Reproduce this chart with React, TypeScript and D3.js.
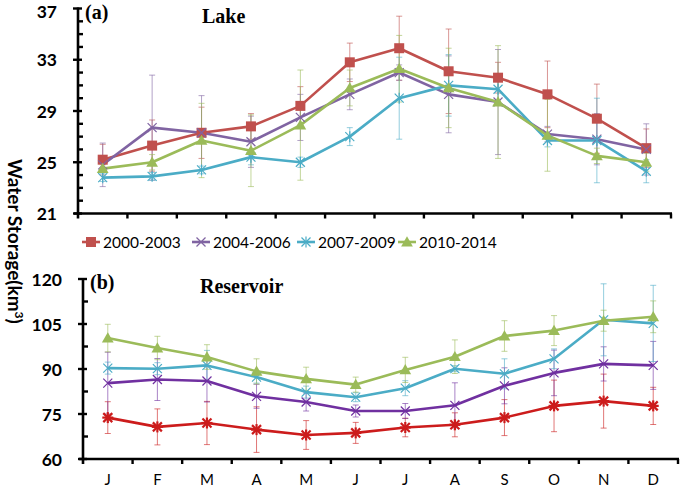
import React from "react";
import * as d3 from "d3";

const months = ["J", "F", "M", "A", "M", "J", "J", "A", "S", "O", "N", "D"];
const seriesNames = ["2000-2003", "2004-2006", "2007-2009", "2010-2014"];

// Lake storage (km3)
const lake2000 = [25.2, 26.3, 27.3, 27.8, 29.4, 32.8, 33.9, 32.1, 31.6, 30.3, 28.4, 26.1];
const lake2004 = [24.8, 27.7, 27.3, 26.6, 28.5, 30.3, 32.0, 30.3, 29.7, 27.2, 26.8, 26.0];
const lake2007 = [23.8, 23.9, 24.4, 25.4, 25.0, 27.0, 30.0, 31.0, 30.7, 26.7, 26.7, 24.3];
const lake2010 = [24.5, 25.0, 26.7, 25.9, 27.9, 30.8, 32.3, 30.8, 29.7, 27.1, 25.5, 25.0];
const lakeErr2000 = [1.2, 2.0, 2.0, 1.0, 1.5, 1.5, 2.5, 3.3, 1.2, 2.6, 2.7, 1.5];
const lakeErr2004 = [1.7, 4.1, 2.9, 2.0, 1.8, 1.2, 0.6, 3.0, 4.1, 0.6, 2.0, 2.0];
const lakeErr2007 = [0.3, 0.3, 0.3, 0.6, 0.4, 0.7, 3.2, 2.4, 1.0, 0.5, 3.3, 0.9];
const lakeErr2010 = [0.3, 0.6, 2.9, 2.8, 4.3, 1.4, 2.6, 3.1, 4.4, 2.8, 0.6, 0.7];

// Reservoir storage (km3)
const res2000 = [73.8, 70.7, 72.0, 69.8, 68.0, 68.7, 70.5, 71.4, 73.8, 77.7, 79.3, 77.7];
const res2004 = [85.3, 86.5, 86.0, 80.9, 79.0, 76.0, 76.0, 77.9, 84.4, 88.7, 91.7, 91.2];
const res2007 = [90.3, 90.1, 91.2, 87.3, 82.3, 80.6, 83.6, 90.1, 88.4, 93.4, 106.4, 105.2];
const res2010 = [100.3, 97.0, 94.0, 89.2, 86.7, 84.8, 89.7, 94.1, 101.0, 102.8, 106.1, 107.4];
const resErr2000 = [5.3, 6.0, 7.2, 7.6, 4.8, 3.5, 3.1, 4.0, 6.0, 8.6, 9.0, 6.2];
const resErr2004 = [10.3, 7.0, 7.0, 4.0, 3.0, 2.0, 2.5, 7.5, 6.0, 7.6, 5.7, 8.0];
const resErr2007 = [2.0, 2.0, 5.0, 2.0, 2.0, 1.5, 2.5, 1.0, 5.0, 3.3, 12.0, 12.7];
const resErr2010 = [4.6, 3.9, 4.1, 4.2, 3.9, 2.5, 4.2, 5.6, 5.1, 5.0, 3.5, 5.3];

const lakeTicks = [21, 25, 29, 33, 37];
const resTicks = [60, 75, 90, 105, 120];

type Marker = "square" | "x" | "star" | "triangle" | "boldstar";

const lakeColors = ["#C0504D", "#8064A2", "#4BACC6", "#9BBB59"];
const resColors = ["#CC1C1C", "#7030A0", "#4BACC6", "#9BBB59"];
const lakeMarkers: Marker[] = ["square", "x", "star", "triangle"];
const resMarkers: Marker[] = ["boldstar", "x", "x", "triangle"];

function MarkerShape({ type, x, y, color }: { type: Marker; x: number; y: number; color: string }) {
  if (type === "square") {
    return <rect x={x - 5} y={y - 5} width={10} height={10} fill={color} />;
  }
  if (type === "triangle") {
    const p = d3.symbol().type(d3.symbolTriangle).size(60)();
    return <path d={p || ""} transform={`translate(${x},${y + 1})`} fill={color} />;
  }
  const r = 4.5;
  const lines = [
    [x - r, y - r, x + r, y + r],
    [x - r, y + r, x + r, y - r],
  ];
  if (type === "star" || type === "boldstar") lines.push([x, y - r - 1, x, y + r + 1]);
  if (type === "boldstar") lines.push([x - r - 1, y, x + r + 1, y]);
  return (
    <g stroke={color} strokeWidth={type === "boldstar" ? 2.2 : 1.2}>
      {lines.map((l, i) => (
        <line key={i} x1={l[0]} y1={l[1]} x2={l[2]} y2={l[3]} />
      ))}
    </g>
  );
}

type PanelProps = {
  x0: number;
  x1: number;
  yTop: number;
  yBottom: number;
  domain: [number, number];
  ticks: number[];
  minorStep: number;
  values: number[][];
  errors: number[][];
  colors: string[];
  markers: Marker[];
  label: string;
  title: string;
  titleX: number;
  showMonths: boolean;
};

function Panel(p: PanelProps) {
  const xs = d3.scaleBand<number>().domain(d3.range(12)).range([p.x0, p.x1]);
  const ys = d3.scaleLinear().domain(p.domain).range([p.yBottom, p.yTop]);
  const cx = (i: number) => (xs(i) as number) + xs.bandwidth() / 2;
  const line = d3
    .line<number>()
    .x((_, i) => cx(i))
    .y((d) => ys(d));
  const minors = d3.range(p.domain[0], p.domain[1] + 0.001, p.minorStep).filter((v) => !p.ticks.includes(v));
  const tickFont = "Lato, 'Open Sans', sans-serif";
  return (
    <g>
      {p.values.map((vals, s) => (
        <g key={"e" + s} stroke={p.colors[s]} strokeOpacity={0.6} strokeWidth={1}>
          {vals.map((v, i) => {
            const e = p.errors[s][i];
            const yt = ys(v + e);
            const yb = ys(v - e);
            const x = cx(i);
            return (
              <g key={i}>
                <line x1={x} x2={x} y1={yt} y2={yb} />
                <line x1={x - 3} x2={x + 3} y1={yt} y2={yt} />
                <line x1={x - 3} x2={x + 3} y1={yb} y2={yb} />
              </g>
            );
          })}
        </g>
      ))}
      {p.values.map((vals, s) => (
        <path key={"l" + s} d={line(vals) || ""} fill="none" stroke={p.colors[s]} strokeWidth={2.6} strokeLinejoin="round" />
      ))}
      {p.values.map((vals, s) => (
        <g key={"m" + s}>
          {vals.map((v, i) => (
            <MarkerShape key={i} type={p.markers[s]} x={cx(i)} y={ys(v)} color={p.colors[s]} />
          ))}
        </g>
      ))}
      <g stroke="#000">
        <line x1={p.x0} x2={p.x0} y1={ys(p.domain[1]) - 1} y2={p.yBottom + 5} strokeWidth={2.6} />
        <line x1={p.x0 - 4} x2={p.x1 + 1} y1={p.yBottom} y2={p.yBottom} strokeWidth={2.6} />
        {p.ticks.map((t) => (
          <line key={"mt" + t} x1={p.x0 - 5} x2={p.x0 + 4} y1={ys(t)} y2={ys(t)} strokeWidth={2.4} />
        ))}
        {minors.map((t) => (
          <line key={"mn" + t} x1={p.x0} x2={p.x0 + 5} y1={ys(t)} y2={ys(t)} strokeWidth={2.4} />
        ))}
        {d3.range(1, 13).map((i) => {
          const x = i === 12 ? p.x1 : (xs(i) as number);
          return <line key={"xt" + i} x1={x} x2={x} y1={p.yBottom} y2={p.yBottom + 5} strokeWidth={2.4} />;
        })}
      </g>
      {p.ticks.map((t) => (
        <text
          key={"tl" + t}
          x={p.x0 - 21}
          y={Math.max(ys(t) + 6.5, 17.5)}
          textAnchor="end"
          fontFamily={tickFont}
          fontWeight="bold"
          fontSize={17.5}
          fill="#000"
        >
          {t}
        </text>
      ))}
      {p.showMonths &&
        months.map((m, i) => (
          <text key={"mo" + i} x={cx(i)} y={p.yBottom + 26} textAnchor="middle" fontFamily={tickFont} fontSize={15} fill="#000">
            {m}
          </text>
        ))}
      <text x={p.x0 + 7} y={ys(p.domain[1]) + 10} fontFamily="'Liberation Serif', 'Times New Roman', serif" fontWeight="bold" fontSize={20} fill="#000">
        {p.label}
      </text>
      <text x={p.titleX} y={ys(p.domain[1]) + 14} fontFamily="'Liberation Serif', 'Times New Roman', serif" fontWeight="bold" fontSize={20} fill="#000">
        {p.title}
      </text>
    </g>
  );
}

export default function App() {
  const legendX = [82, 192, 297, 398];
  return (
    <svg width={685} height={491} style={{ position: "absolute", left: 0, top: 0, background: "#fff" }}>
      <rect width={685} height={491} fill="#fff" />
      <Panel
        x0={78}
        x1={671}
        yTop={8.5}
        yBottom={213.5}
        domain={[21, 37]}
        ticks={lakeTicks}
        minorStep={1}
        values={[lake2000, lake2004, lake2007, lake2010]}
        errors={[lakeErr2000, lakeErr2004, lakeErr2007, lakeErr2010]}
        colors={lakeColors}
        markers={lakeMarkers}
        label="(a)"
        title="Lake"
        titleX={202}
        showMonths={false}
      />
      <Panel
        x0={83}
        x1={678}
        yTop={279}
        yBottom={459}
        domain={[60, 120]}
        ticks={resTicks}
        minorStep={7.5}
        values={[res2000, res2004, res2007, res2010]}
        errors={[resErr2000, resErr2004, resErr2007, resErr2010]}
        colors={resColors}
        markers={resMarkers}
        label="(b)"
        title="Reservoir"
        titleX={200}
        showMonths={true}
      />
      {seriesNames.map((name, s) => (
        <g key={name}>
          <line x1={legendX[s]} x2={legendX[s] + 18} y1={242} y2={242} stroke={lakeColors[s]} strokeWidth={2.6} />
          <MarkerShape type={lakeMarkers[s]} x={legendX[s] + 9} y={242} color={lakeColors[s]} />
          <text x={legendX[s] + 21} y={247.5} fontFamily="Lato, 'Open Sans', sans-serif" fontSize={15.5} fill="#000">
            {name}
          </text>
        </g>
      ))}
      <text
        transform="translate(8,159) rotate(90)"
        fontFamily="Lato, 'Open Sans', sans-serif"
        fontWeight="bold"
        fontSize={19}
        fill="#000"
      >
        Water Storage(km
        <tspan dy={-7} fontSize={12}>
          3
        </tspan>
        <tspan dy={7}>)</tspan>
      </text>
    </svg>
  );
}
